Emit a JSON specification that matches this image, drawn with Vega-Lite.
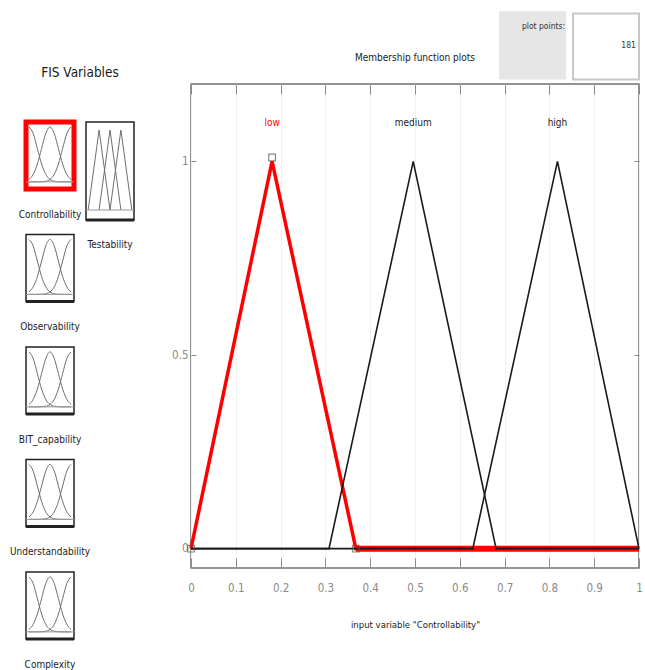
{
  "$schema": "https://vega.github.io/schema/vega-lite/v6.json",
  "padding": {"left": 9, "top": 10, "right": 5, "bottom": 0},
  "bounds": "flush",
  "spacing": 165,
  "config": {
    "view": {"stroke": null},
    "font": "Liberation Sans Narrow, DejaVu Sans Condensed, Arial Narrow, sans-serif",
    "title": {"font": "Liberation Sans Narrow, DejaVu Sans Condensed, Arial Narrow, sans-serif", "fontWeight": "normal", "color": "#222222"},
    "axis": {"labelFont": "Liberation Sans Narrow, DejaVu Sans Condensed, Arial Narrow, sans-serif", "titleFont": "Liberation Sans Narrow, DejaVu Sans Condensed, Arial Narrow, sans-serif"},
    "text": {"font": "Liberation Sans Narrow, DejaVu Sans Condensed, Arial Narrow, sans-serif"}
  },
  "datasets": {
    "gauss": [
      {"mf": "a", "x": 0, "y": 1}, {"mf": "a", "x": 0.1, "y": 0.8825}, {"mf": "a", "x": 0.2, "y": 0.6065}, {"mf": "a", "x": 0.3, "y": 0.3247}, {"mf": "a", "x": 0.4, "y": 0.1353}, {"mf": "a", "x": 0.5, "y": 0.0439}, {"mf": "a", "x": 0.6, "y": 0.0111}, {"mf": "a", "x": 0.7, "y": 0.0022}, {"mf": "a", "x": 0.8, "y": 0.0003}, {"mf": "a", "x": 0.9, "y": 0}, {"mf": "a", "x": 1, "y": 0},
      {"mf": "b", "x": 0, "y": 0.0439}, {"mf": "b", "x": 0.1, "y": 0.1353}, {"mf": "b", "x": 0.2, "y": 0.3247}, {"mf": "b", "x": 0.3, "y": 0.6065}, {"mf": "b", "x": 0.4, "y": 0.8825}, {"mf": "b", "x": 0.5, "y": 1}, {"mf": "b", "x": 0.6, "y": 0.8825}, {"mf": "b", "x": 0.7, "y": 0.6065}, {"mf": "b", "x": 0.8, "y": 0.3247}, {"mf": "b", "x": 0.9, "y": 0.1353}, {"mf": "b", "x": 1, "y": 0.0439},
      {"mf": "c", "x": 0, "y": 0}, {"mf": "c", "x": 0.1, "y": 0}, {"mf": "c", "x": 0.2, "y": 0.0003}, {"mf": "c", "x": 0.3, "y": 0.0022}, {"mf": "c", "x": 0.4, "y": 0.0111}, {"mf": "c", "x": 0.5, "y": 0.0439}, {"mf": "c", "x": 0.6, "y": 0.1353}, {"mf": "c", "x": 0.7, "y": 0.3247}, {"mf": "c", "x": 0.8, "y": 0.6065}, {"mf": "c", "x": 0.9, "y": 0.8825}, {"mf": "c", "x": 1, "y": 1}
    ],
    "tri": [
      {"mf": "a", "x": 0, "y": 0}, {"mf": "a", "x": 0.25, "y": 1}, {"mf": "a", "x": 0.5, "y": 0},
      {"mf": "b", "x": 0.25, "y": 0}, {"mf": "b", "x": 0.5, "y": 1}, {"mf": "b", "x": 0.75, "y": 0},
      {"mf": "c", "x": 0.5, "y": 0}, {"mf": "c", "x": 0.75, "y": 1}, {"mf": "c", "x": 1, "y": 0}
    ],
    "cmf": [
      {"mf": "low", "x": 0, "y": 0}, {"mf": "low", "x": 0.181, "y": 1}, {"mf": "low", "x": 0.368, "y": 0}, {"mf": "low", "x": 1, "y": 0},
      {"mf": "medium", "x": 0, "y": 0}, {"mf": "medium", "x": 0.308, "y": 0}, {"mf": "medium", "x": 0.496, "y": 1}, {"mf": "medium", "x": 0.681, "y": 0}, {"mf": "medium", "x": 1, "y": 0},
      {"mf": "high", "x": 0, "y": 0}, {"mf": "high", "x": 0.629, "y": 0}, {"mf": "high", "x": 0.818, "y": 1}, {"mf": "high", "x": 1, "y": 0}
    ]
  },
  "hconcat": [
    {
      "bounds": "flush",
      "spacing": 37,
      "vconcat": [
        {
          "width": 108, "height": 1,
          "data": {"values": [{"t": "FIS Variables"}]},
          "mark": {"type": "text", "fontSize": 13.5, "dy": -12, "color": "#1a1a1a"},
          "encoding": {"text": {"field": "t"}}
        },
        {
          "bounds": "flush",
          "spacing": 60,
          "hconcat": [
            {
              "bounds": "flush",
              "spacing": 45.5,
              "vconcat": [
                {
                  "width": 48, "height": 67,
                  "view": {"stroke": "#ff0000", "strokeWidth": 5},
                  "title": {"text": "Controllability", "orient": "bottom", "offset": 19, "fontSize": 10, "color": "#222222"},
                  "layer": [
                    {"data": {"name": "gauss"}, "mark": {"type": "line", "interpolate": "monotone", "color": "#6e6e6e", "strokeWidth": 1},
                     "encoding": {"x": {"field": "x", "type": "quantitative", "scale": {"domain": [-0.07, 1.07], "nice": false, "zero": false}, "axis": null},
                                  "y": {"field": "y", "type": "quantitative", "scale": {"domain": [-0.13, 1.09], "nice": false, "zero": false}, "axis": null},
                                  "detail": {"field": "mf"}}},
                    {"data": {"values": [{}]}, "mark": {"type": "rule", "color": "#9a9a9a", "strokeWidth": 1}, "encoding": {"y": {"datum": 0}}},
                    {"data": {"values": [{}]}, "mark": {"type": "rule", "color": "#ff0000", "strokeWidth": 3}, "encoding": {"y": {"datum": -0.13}}}
                  ]
                },
                {
                  "width": 48, "height": 67,
                  "view": {"stroke": "#222222", "strokeWidth": 1.5},
                  "title": {"text": "Observability", "orient": "bottom", "offset": 19, "fontSize": 10, "color": "#222222"},
                  "layer": [
                    {"data": {"name": "gauss"}, "mark": {"type": "line", "interpolate": "monotone", "color": "#6e6e6e", "strokeWidth": 1},
                     "encoding": {"x": {"field": "x", "type": "quantitative", "scale": {"domain": [-0.07, 1.07], "nice": false, "zero": false}, "axis": null},
                                  "y": {"field": "y", "type": "quantitative", "scale": {"domain": [-0.13, 1.09], "nice": false, "zero": false}, "axis": null},
                                  "detail": {"field": "mf"}}},
                    {"data": {"values": [{}]}, "mark": {"type": "rule", "color": "#9a9a9a", "strokeWidth": 1}, "encoding": {"y": {"datum": 0}}},
                    {"data": {"values": [{}]}, "mark": {"type": "rule", "color": "#222222", "strokeWidth": 3}, "encoding": {"y": {"datum": -0.13}}}
                  ]
                },
                {
                  "width": 48, "height": 67,
                  "view": {"stroke": "#222222", "strokeWidth": 1.5},
                  "title": {"text": "BIT_capability", "orient": "bottom", "offset": 19, "fontSize": 10, "color": "#222222"},
                  "layer": [
                    {"data": {"name": "gauss"}, "mark": {"type": "line", "interpolate": "monotone", "color": "#6e6e6e", "strokeWidth": 1},
                     "encoding": {"x": {"field": "x", "type": "quantitative", "scale": {"domain": [-0.07, 1.07], "nice": false, "zero": false}, "axis": null},
                                  "y": {"field": "y", "type": "quantitative", "scale": {"domain": [-0.13, 1.09], "nice": false, "zero": false}, "axis": null},
                                  "detail": {"field": "mf"}}},
                    {"data": {"values": [{}]}, "mark": {"type": "rule", "color": "#9a9a9a", "strokeWidth": 1}, "encoding": {"y": {"datum": 0}}},
                    {"data": {"values": [{}]}, "mark": {"type": "rule", "color": "#222222", "strokeWidth": 3}, "encoding": {"y": {"datum": -0.13}}}
                  ]
                },
                {
                  "width": 48, "height": 67,
                  "view": {"stroke": "#222222", "strokeWidth": 1.5},
                  "title": {"text": "Understandability", "orient": "bottom", "offset": 19, "fontSize": 10, "color": "#222222"},
                  "layer": [
                    {"data": {"name": "gauss"}, "mark": {"type": "line", "interpolate": "monotone", "color": "#6e6e6e", "strokeWidth": 1},
                     "encoding": {"x": {"field": "x", "type": "quantitative", "scale": {"domain": [-0.07, 1.07], "nice": false, "zero": false}, "axis": null},
                                  "y": {"field": "y", "type": "quantitative", "scale": {"domain": [-0.13, 1.09], "nice": false, "zero": false}, "axis": null},
                                  "detail": {"field": "mf"}}},
                    {"data": {"values": [{}]}, "mark": {"type": "rule", "color": "#9a9a9a", "strokeWidth": 1}, "encoding": {"y": {"datum": 0}}},
                    {"data": {"values": [{}]}, "mark": {"type": "rule", "color": "#222222", "strokeWidth": 3}, "encoding": {"y": {"datum": -0.13}}}
                  ]
                },
                {
                  "width": 48, "height": 67,
                  "view": {"stroke": "#222222", "strokeWidth": 1.5},
                  "title": {"text": "Complexity", "orient": "bottom", "offset": 19, "fontSize": 10, "color": "#222222"},
                  "layer": [
                    {"data": {"name": "gauss"}, "mark": {"type": "line", "interpolate": "monotone", "color": "#6e6e6e", "strokeWidth": 1},
                     "encoding": {"x": {"field": "x", "type": "quantitative", "scale": {"domain": [-0.07, 1.07], "nice": false, "zero": false}, "axis": null},
                                  "y": {"field": "y", "type": "quantitative", "scale": {"domain": [-0.13, 1.09], "nice": false, "zero": false}, "axis": null},
                                  "detail": {"field": "mf"}}},
                    {"data": {"values": [{}]}, "mark": {"type": "rule", "color": "#9a9a9a", "strokeWidth": 1}, "encoding": {"y": {"datum": 0}}},
                    {"data": {"values": [{}]}, "mark": {"type": "rule", "color": "#222222", "strokeWidth": 3}, "encoding": {"y": {"datum": -0.13}}}
                  ]
                }
              ]
            },
            {
              "width": 48, "height": 98,
              "view": {"stroke": "#222222", "strokeWidth": 1.5},
              "title": {"text": "Testability", "orient": "bottom", "offset": 18, "fontSize": 10, "color": "#222222"},
              "layer": [
                {"data": {"name": "tri"}, "mark": {"type": "line", "color": "#6e6e6e", "strokeWidth": 1},
                 "encoding": {"x": {"field": "x", "type": "quantitative", "scale": {"domain": [-0.05, 1.05], "nice": false, "zero": false}, "axis": null},
                              "y": {"field": "y", "type": "quantitative", "scale": {"domain": [-0.125, 1.1], "nice": false, "zero": false}, "axis": null},
                              "detail": {"field": "mf"}}},
                {"data": {"values": [{}]}, "mark": {"type": "rule", "color": "#9a9a9a", "strokeWidth": 1}, "encoding": {"y": {"datum": 0}}},
                {"data": {"values": [{}]}, "mark": {"type": "rule", "color": "#222222", "strokeWidth": 3}, "encoding": {"y": {"datum": -0.125}}}
              ]
            }
          ]
        }
      ]
    },
    {
      "width": 448, "height": 484,
      "view": {"stroke": "#707070", "strokeWidth": 1.5},
      "layer": [
        {"data": {"values": [{"x": 0.6875, "x2": 0.837, "y": 1.2119, "y2": 1.3876}]},
         "mark": {"type": "rect", "color": "#e6e6e6"},
         "encoding": {"x": {"field": "x", "type": "quantitative", "scale": {"domain": [0, 1], "nice": false, "zero": false}, "axis": null}, "x2": {"field": "x2"},
                      "y": {"field": "y", "type": "quantitative", "scale": {"domain": [-0.05, 1.2], "nice": false, "zero": false}, "axis": null}, "y2": {"field": "y2"}}},
        {"data": {"values": [{"x": 0.8527, "x2": 1.0, "y": 1.2119, "y2": 1.382}]},
         "mark": {"type": "rect", "fill": "#ffffff", "stroke": "#c8c8c8", "strokeWidth": 2},
         "encoding": {"x": {"field": "x", "type": "quantitative", "scale": {"domain": [0, 1], "nice": false, "zero": false}, "axis": null}, "x2": {"field": "x2"},
                      "y": {"field": "y", "type": "quantitative", "scale": {"domain": [-0.05, 1.2], "nice": false, "zero": false}, "axis": null}, "y2": {"field": "y2"}}},
        {"data": {"values": [{"t": "plot points:", "x": 0.835, "y": 1.35}, {"t": "181", "x": 0.993, "y": 1.3}]},
         "mark": {"type": "text", "align": "right", "fontSize": 8.5, "color": "#333333"},
         "encoding": {"x": {"field": "x", "type": "quantitative", "scale": {"domain": [0, 1], "nice": false, "zero": false}, "axis": null},
                      "y": {"field": "y", "type": "quantitative", "scale": {"domain": [-0.05, 1.2], "nice": false, "zero": false}, "axis": null},
                      "text": {"field": "t"}}},
        {"data": {"values": [{"t": "Membership function plots", "x": 0.5, "y": 1.266}]},
         "mark": {"type": "text", "fontSize": 10, "color": "#1a1a1a"},
         "encoding": {"x": {"field": "x", "type": "quantitative", "scale": {"domain": [0, 1], "nice": false, "zero": false}, "axis": null},
                      "y": {"field": "y", "type": "quantitative", "scale": {"domain": [-0.05, 1.2], "nice": false, "zero": false}, "axis": null},
                      "text": {"field": "t"}}},
        {"data": {"name": "cmf"}, "transform": [{"filter": "datum.mf == 'low' && datum.x >= 0.368"}],
         "mark": {"type": "line", "color": "#ff0000", "strokeWidth": 6},
         "encoding": {"x": {"field": "x", "type": "quantitative", "scale": {"domain": [0, 1], "nice": false, "zero": false}, "axis": null},
                      "y": {"field": "y", "type": "quantitative", "scale": {"domain": [-0.05, 1.2], "nice": false, "zero": false}, "axis": null}}},
        {"data": {"name": "cmf"}, "transform": [{"filter": "datum.mf == 'low'"}],
         "mark": {"type": "line", "color": "#ff0000", "strokeWidth": 3.5},
         "encoding": {
           "x": {"field": "x", "type": "quantitative", "scale": {"domain": [0, 1], "nice": false, "zero": false},
                 "axis": {"orient": "bottom", "values": [0, 0.1, 0.2, 0.3, 0.4, 0.5, 0.6, 0.7, 0.8, 0.9, 1], "format": "~g", "tickSize": -10, "tickColor": "#8a8a8a", "labelPadding": 24, "labelFontSize": 11.5, "labelColor": "#8a8a8a", "labelFlush": false, "labelOverlap": false, "domain": false, "grid": true, "gridColor": "#f0f0f0", "title": "input variable \"Controllability\"", "titleFontSize": 9.5, "titleFontWeight": "normal", "titleColor": "#1a1a1a", "titlePadding": 26}},
           "y": {"field": "y", "type": "quantitative", "scale": {"domain": [-0.05, 1.2], "nice": false, "zero": false},
                 "axis": {"orient": "left", "values": [0, 0.5, 1], "format": "~g", "tickSize": -5, "tickColor": "#8a8a8a", "labelPadding": 8, "labelFontSize": 11.5, "labelColor": "#8a8a8a", "labelFlush": false, "domain": false, "grid": false, "title": null}}
         }},
        {"data": {"name": "cmf"}, "transform": [{"filter": "datum.mf != 'low'"}],
         "mark": {"type": "line", "color": "#1a1a1a", "strokeWidth": 1.6},
         "encoding": {
           "x": {"field": "x", "type": "quantitative", "scale": {"domain": [0, 1], "nice": false, "zero": false},
                 "axis": {"orient": "top", "values": [0, 0.1, 0.2, 0.3, 0.4, 0.5, 0.6, 0.7, 0.8, 0.9, 1], "tickSize": -10, "tickColor": "#8a8a8a", "labels": false, "domain": false, "grid": false, "title": null}},
           "y": {"field": "y", "type": "quantitative", "scale": {"domain": [-0.05, 1.2], "nice": false, "zero": false},
                 "axis": {"orient": "right", "values": [0, 0.5, 1], "tickSize": -5, "tickColor": "#8a8a8a", "labels": false, "domain": false, "grid": false, "title": null}},
           "detail": {"field": "mf"}
         }},
        {"data": {"values": [{"x": 0, "y": 0}, {"x": 0.181, "y": 1.01}, {"x": 0.368, "y": 0}]},
         "mark": {"type": "point", "shape": "square", "filled": false, "color": "#555555", "size": 45, "strokeWidth": 1.2},
         "encoding": {"x": {"field": "x", "type": "quantitative", "scale": {"domain": [0, 1], "nice": false, "zero": false}, "axis": null},
                      "y": {"field": "y", "type": "quantitative", "scale": {"domain": [-0.05, 1.2], "nice": false, "zero": false}, "axis": null}}},
        {"data": {"values": [{"label": "low", "x": 0.181, "y": 1.1}, {"label": "medium", "x": 0.496, "y": 1.1}, {"label": "high", "x": 0.818, "y": 1.1}]},
         "mark": {"type": "text", "fontSize": 10},
         "encoding": {"x": {"field": "x", "type": "quantitative", "scale": {"domain": [0, 1], "nice": false, "zero": false}, "axis": null},
                      "y": {"field": "y", "type": "quantitative", "scale": {"domain": [-0.05, 1.2], "nice": false, "zero": false}, "axis": null},
                      "text": {"field": "label"},
                      "color": {"field": "label", "type": "nominal", "scale": {"domain": ["low", "medium", "high"], "range": ["#ff0000", "#222222", "#222222"]}, "legend": null}}}
      ],
      "resolve": {"axis": {"x": "independent", "y": "independent"}}
    }
  ]
}
